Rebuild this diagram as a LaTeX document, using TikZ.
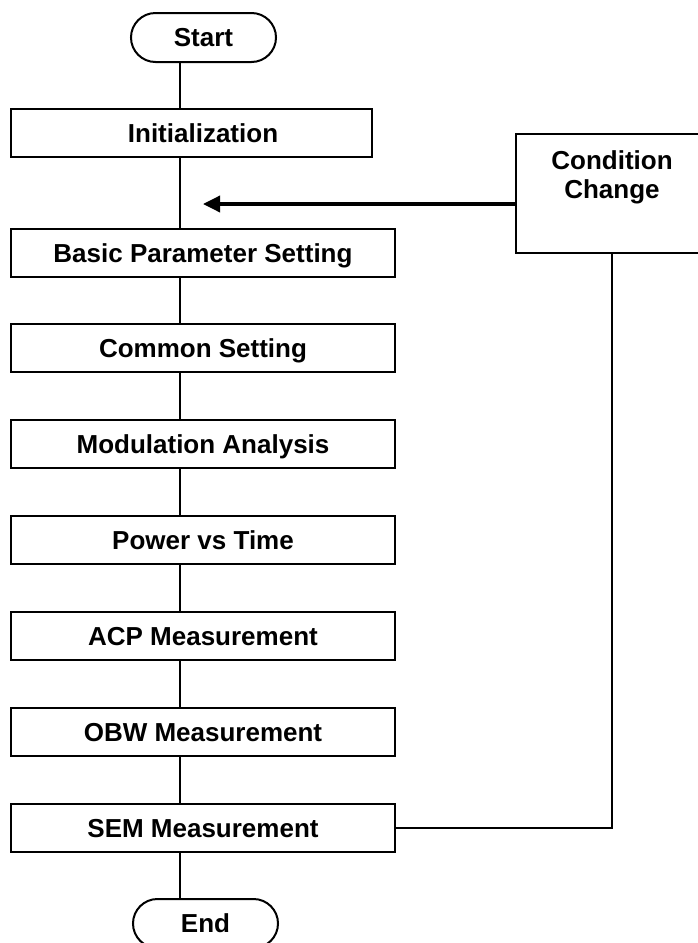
\documentclass[tikz,border=0pt]{standalone}
\usepackage{fontspec}
\setmainfont{Liberation Sans}
\usetikzlibrary{shapes.misc,arrows.meta}
\tikzset{
  stepbox/.style={draw, line width=2pt, rectangle, minimum width=384pt, minimum height=48pt,
    inner sep=0pt, text height=18pt, text depth=0pt,
    font=\fontsize{26}{29}\selectfont\bfseries},
  termbox/.style={draw, line width=2pt, rounded rectangle, minimum width=145pt, minimum height=49pt,
    inner sep=0pt, text height=18pt, text depth=0pt,
    font=\fontsize{26}{29}\selectfont\bfseries},
  condtext/.style={align=center, inner sep=0pt, font=\fontsize{26}{29}\selectfont\bfseries},
  flow/.style={line width=2pt},
  fb/.style={line width=3.5pt, -{Triangle[length=17pt,width=16pt]}}
}
\begin{document}
\begin{tikzpicture}[x=1pt,y=-1pt]
\useasboundingbox (0,0) rectangle (697,943);
\coordinate (tk) at (180,0);
\node[termbox] (start) at (203.5,37.5) {Start};
\node[stepbox, minimum width=361pt] (init) at (191.5,133) {\hspace*{23pt}Initialization};
\node[stepbox] (basic) at (203,253) {Basic Parameter Setting};
\node[stepbox] (common) at (203,348) {Common Setting};
\node[stepbox] (mod) at (203,444) {Modulation Analysis};
\node[stepbox] (pvt) at (203,540) {Power vs Time};
\node[stepbox] (acp) at (203,636) {ACP Measurement};
\node[stepbox] (obw) at (203,732) {OBW Measurement};
\node[stepbox] (sem) at (203,828) {SEM Measurement};
\node[termbox] (end) at (205.5,923.5) {End};
\node[draw, line width=2pt, rectangle, minimum width=200pt, minimum height=119pt,
      inner sep=0pt, anchor=north west] (cond) at (515,133) {};
\node[condtext] (condlabel) at (612,177) {Condition\\Change};
\coordinate (tip) at (203,204);
\coordinate (corner) at (612,828);

\draw[flow] (start.south -| tk) -- (init.north -| tk);
\draw[flow] (init.south -| tk) -- (basic.north -| tk);
\draw[flow] (basic.south -| tk) -- (common.north -| tk);
\draw[flow] (common.south -| tk) -- (mod.north -| tk);
\draw[flow] (mod.south -| tk) -- (pvt.north -| tk);
\draw[flow] (pvt.south -| tk) -- (acp.north -| tk);
\draw[flow] (acp.south -| tk) -- (obw.north -| tk);
\draw[flow] (obw.south -| tk) -- (sem.north -| tk);
\draw[flow] (sem.south -| tk) -- (end.north -| tk);
\draw[flow] (sem.east) -- (corner) -- (corner |- cond.south);
\draw[fb] (cond.west |- tip) -- (tip);
\end{tikzpicture}
\end{document}
